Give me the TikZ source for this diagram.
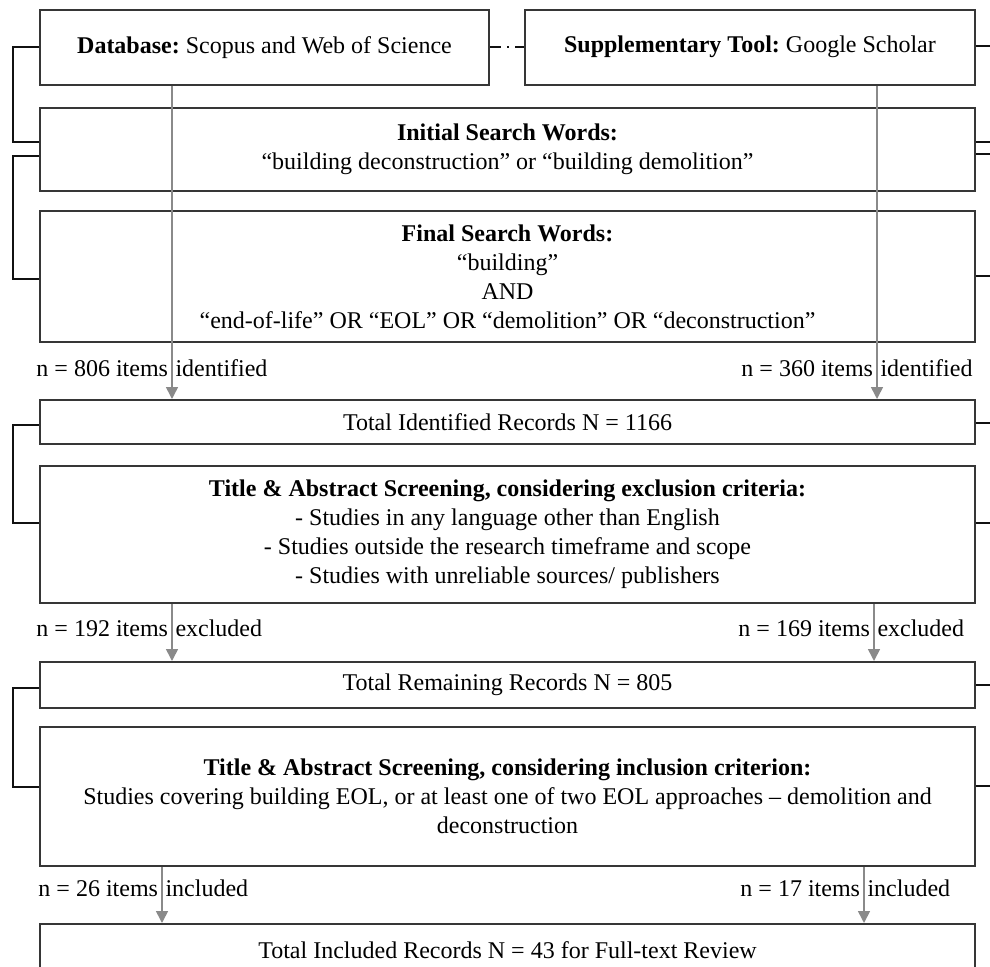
\documentclass[tikz,border=0pt]{standalone}
\usepackage{fontspec}
\setmainfont{Liberation Serif}
\usetikzlibrary{arrows.meta}
\definecolor{boxgray}{HTML}{363636}
\definecolor{flowgray}{HTML}{8A8A8A}
\definecolor{bracegray}{HTML}{111111}
\frenchspacing
\begin{document}
\begin{tikzpicture}[x=1pt,y=-1pt,
  box/.style={draw=boxgray, line width=2pt, inner sep=0pt, align=center,
    minimum width=935pt, font=\fontsize{24}{29}\selectfont},
  lbl/.style={inner sep=0pt, font=\fontsize{24}{29}\selectfont},
  flow/.style={draw=flowgray, line width=1.6pt,
    -{Triangle[width=12pt,length=12pt]}},
  brace/.style={draw=bracegray, line width=2pt},
]
\clip (0,0) rectangle (990,966);

% sources
\node[box, minimum width=449pt, minimum height=74.5pt] (db) at (264.5,47.25)
  {\textbf{Database:} Scopus and Web of Science};
\node[box, minimum width=450pt, minimum height=74.5pt] (gs) at (750,47.25)
  {\textbf{Supplementary Tool:} Google Scholar};

% search words
\node[box, minimum height=83pt] (init) at (507.5,149.5)
  {\textbf{Initial Search Words:}\\“building deconstruction” or “building demolition”};
\node[box, minimum height=131pt] (fin) at (507.5,276.5)
  {\textbf{Final Search Words:}\\“building”\\AND\\“end-of-life” OR “EOL” OR “demolition” OR “deconstruction”};

% identification and screening
\node[box, minimum height=44pt] (tid) at (507.5,422)
  {Total Identified Records N = 1166};
\node[box, minimum height=137pt] (excl) at (507.5,534.5)
  {\textbf{Title \& Abstract Screening, considering exclusion criteria:}\\
   - Studies in any language other than English\\
   - Studies outside the research timeframe and scope\\
   - Studies with unreliable sources/ publishers};
\node[box, minimum height=46pt] (trem) at (507.5,685)
  {Total Remaining Records N = 805};
\node[box, minimum height=139pt] (incl) at (507.5,796.5)
  {\textbf{Title \& Abstract Screening, considering inclusion criterion:}\\
   Studies covering building EOL, or at least one of two EOL approaches – demolition and\\
   deconstruction};
\node[box, minimum height=52pt] (tinc) at (507.5,950)
  {Total Included Records N = 43 for Full-text Review};

% arrow columns
\coordinate (ax1) at (172,0);
\coordinate (ax2) at (877,0);
\coordinate (ax3) at (172,0);
\coordinate (ax4) at (874,0);
\coordinate (ax5) at (162,0);
\coordinate (ax6) at (864,0);

% count labels, split around the arrow
\node[lbl] (n806) at (172,368) {\llap{n = 806 items\hspace{4pt}}\rlap{\hspace{3.5pt}identified}};
\node[lbl] (n360) at (877,368) {\llap{n = 360 items\hspace{4pt}}\rlap{\hspace{3.5pt}identified}};
\node[lbl] (n192) at (172,628) {\llap{n = 192 items\hspace{4pt}}\rlap{\hspace{3.5pt}excluded}};
\node[lbl] (n169) at (874,628) {\llap{n = 169 items\hspace{4pt}}\rlap{\hspace{3.5pt}excluded}};
\node[lbl] (n26) at (162,888) {\llap{n = 26 items\hspace{4pt}}\rlap{\hspace{3.5pt}included}};
\node[lbl] (n17) at (864,888) {\llap{n = 17 items\hspace{4pt}}\rlap{\hspace{3.5pt}included}};

% flow arrows
\draw[flow] (db.south -| ax1) -- (tid.north -| ax1);
\draw[flow] (gs.south -| ax2) -- (tid.north -| ax2);
\draw[flow] (excl.south -| ax3) -- (trem.north -| ax3);
\draw[flow] (excl.south -| ax4) -- (trem.north -| ax4);
\draw[flow] (incl.south -| ax5) -- (tinc.north -| ax5);
\draw[flow] (incl.south -| ax6) -- (tinc.north -| ax6);

% link between the two sources
\draw[brace, dash pattern=on 11pt off 6pt on 2pt off 6pt] (db.east) -- (gs.west);

% left brackets
\draw[brace] (db.west) -- ++(-26,0) |- ([yshift=7.5pt]init.west);
\draw[brace] ([yshift=-6pt]init.west) -- ++(-26,0) |- ([yshift=-2.5pt]fin.west);
\draw[brace] ([yshift=-3pt]tid.west) -- ++(-26,0) |- ([yshift=11.5pt]excl.west);
\draw[brace] ([yshift=-3pt]trem.west) -- ++(-26,0) |- ([yshift=9.5pt]incl.west);

% right brackets
\draw[brace] ([yshift=1pt]gs.east) -- ++(22,0) |- ([yshift=7.5pt]init.east);
\draw[brace] ([yshift=-4.5pt]init.east) -- ++(22,0) |- ([yshift=0.5pt]fin.east);
\draw[brace] ([yshift=-1pt]tid.east) -- ++(22,0) |- ([yshift=11.5pt]excl.east);
\draw[brace] (trem.east) -- ++(22,0) |- ([yshift=10.5pt]incl.east);
\end{tikzpicture}
\end{document}
